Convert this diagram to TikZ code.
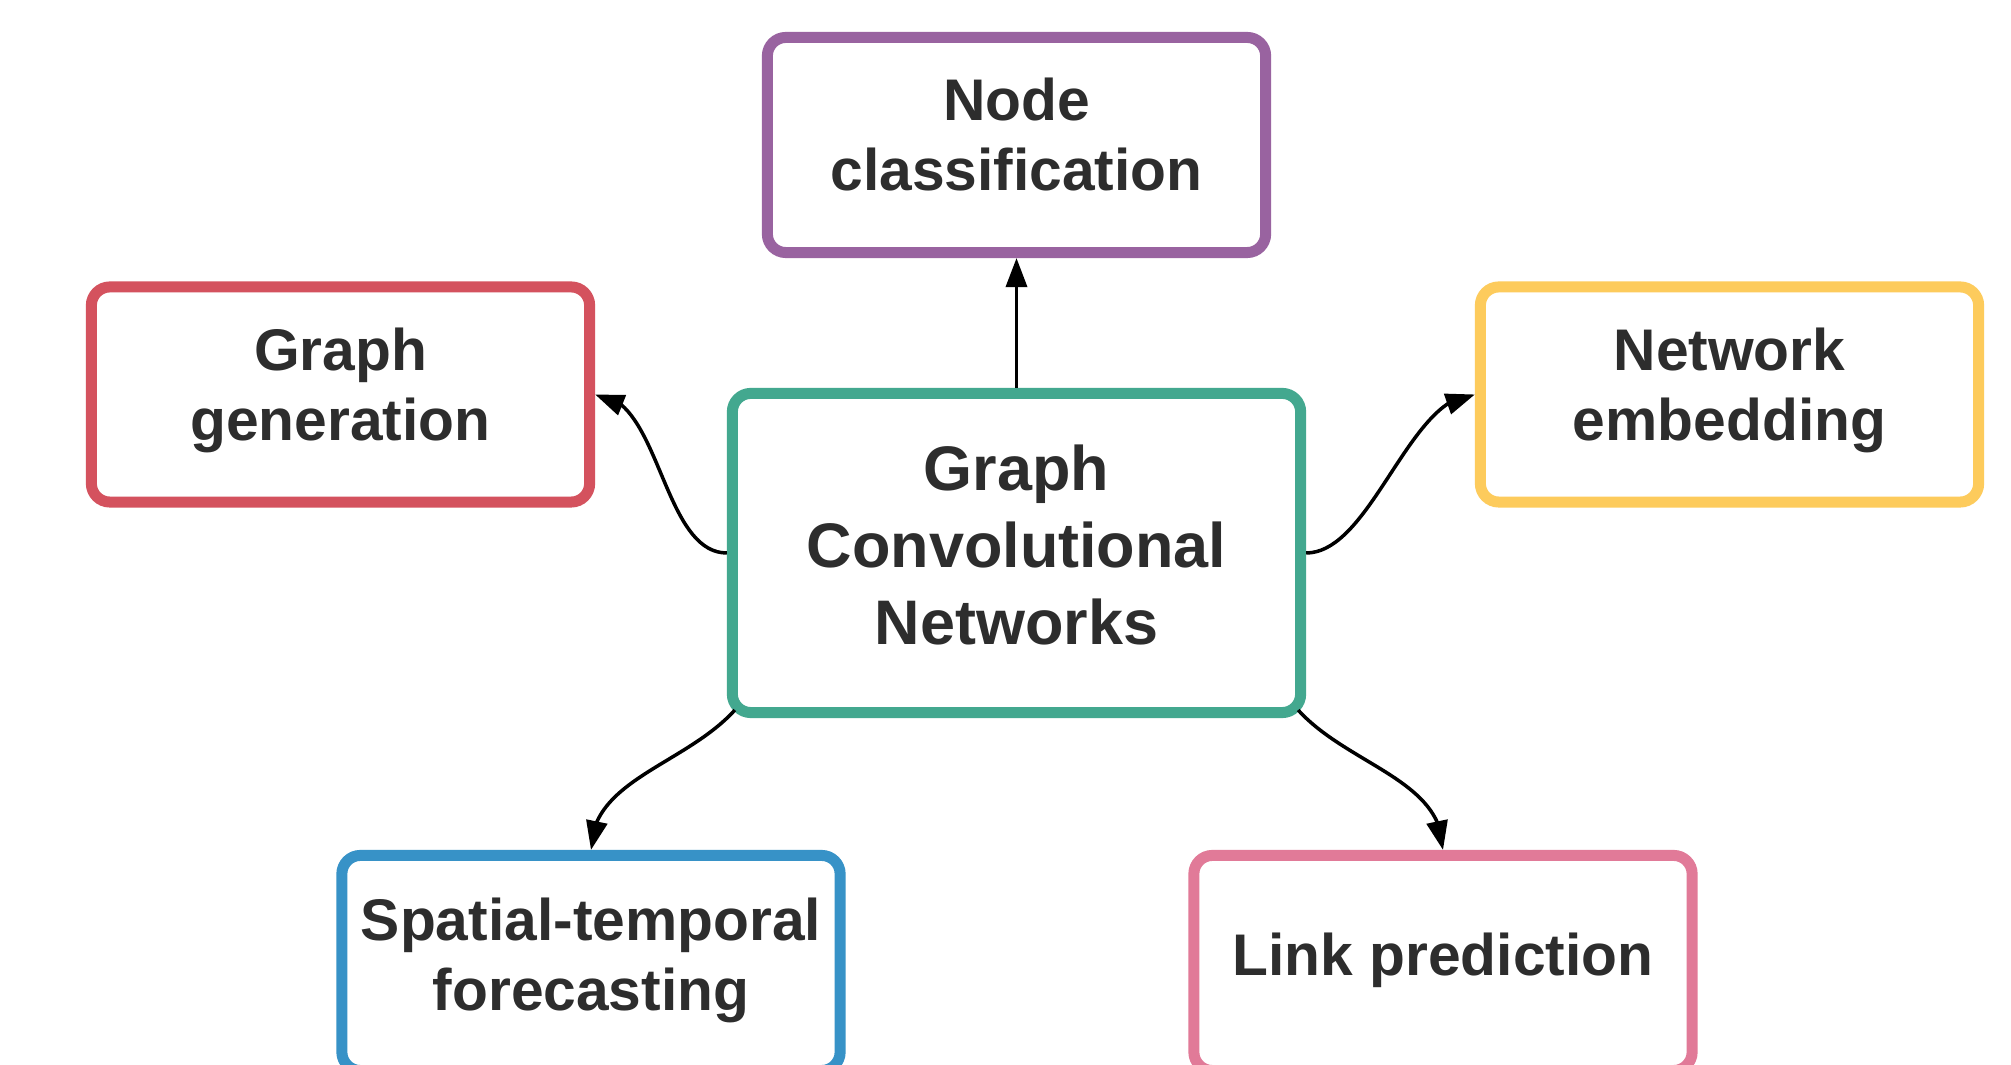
\documentclass[tikz,border=0pt]{standalone}
\usepackage{fontspec}
\setmainfont{Liberation Sans}
\usetikzlibrary{arrows.meta,bending}
\definecolor{cpurple}{RGB}{153,99,160}
\definecolor{cred}{RGB}{212,82,94}
\definecolor{cyellow}{RGB}{253,203,92}
\definecolor{cteal}{RGB}{67,168,143}
\definecolor{cblue}{RGB}{55,146,199}
\definecolor{cpink}{RGB}{225,122,152}
\definecolor{textgray}{RGB}{45,45,45}
\begin{document}
\begin{tikzpicture}[x=0.01cm,y=-0.01cm,
  box/.style={draw, line width=0.11cm, rounded corners=0.185cm, fill=white,
    align=center, inner sep=0pt, text=textgray,
    font=\fontsize{16.7}{19.9}\selectfont\bfseries,
    minimum width=4.98cm, minimum height=2.15cm},
  conn/.style={line width=1pt, -{Triangle[flex,length=0.29cm,width=0.21cm]}}]
\clip (0,0) rectangle (2011,1065);
\fill[white] (0,0) rectangle (2011,1065);
\node[box, draw=cpurple, text depth=0.21cm] (nc) at (1016.5,145) {Node\\classification};
\node[box, draw=cred, text depth=0.20cm] (gg) at (340.5,394.5) {Graph\\generation};
\node[box, draw=cyellow, text depth=0.20cm] (ne) at (1729.5,394.5) {Network\\embedding};
\node[box, draw=cteal, minimum width=5.68cm, minimum height=3.19cm, text depth=0.17cm,
  font=\fontsize{17.9}{21.9}\selectfont\bfseries] (gcn) at (1016.5,553) {Graph\\Convolutional\\Networks};
\node[box, draw=cblue, text depth=0.18cm] (st) at (591,963) {Spatial-temporal\\forecasting};
\node[box, draw=cpink, text depth=0.17cm] (lp) at (1443,963) {Link prediction};
\coordinate (s1) at ([xshift=0.08cm,yshift=0.08cm]gcn.south west);
\coordinate (s2) at ([xshift=-0.08cm,yshift=0.08cm]gcn.south east);
\draw[conn] (gcn.north) -- (nc.south);
\draw[conn] (gcn.west) .. controls +(-65,0) and +(65,0) .. (gg.east);
\draw[conn] (gcn.east) .. controls +(65,0) and +(-65,0) .. (ne.west);
\draw[conn] (s1) .. controls +(-50,55) and +(0,-70) .. (st.north);
\draw[conn] (s2) .. controls +(50,55) and +(0,-70) .. (lp.north);
\end{tikzpicture}
\end{document}
